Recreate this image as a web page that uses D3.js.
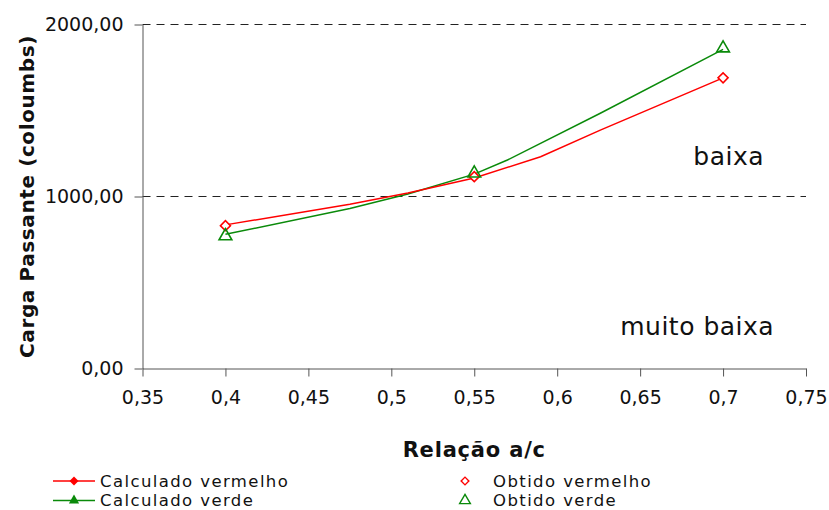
<!DOCTYPE html>
<html>
<head>
<meta charset="utf-8">
<script src="https://cdn.jsdelivr.net/npm/d3@7"></script>
<style>
  body { margin: 0; background: #fff; }
  text { font-family: "DejaVu Sans", sans-serif; fill: #111; }
</style>
</head>
<body>
<div id="chart"></div>
<script>
// calculated curves (x = relação a/c, y = carga passante)
var calcRedX = [0.4, 0.475, 0.51, 0.55, 0.59, 0.626, 0.7];
var calcRedY = [835, 955, 1020, 1108, 1231, 1386, 1690];
var calcGreenX = [0.4, 0.475, 0.51, 0.55, 0.57, 0.626, 0.7];
var calcGreenY = [780, 930, 1015, 1130, 1212, 1484, 1855];
// red calculated markers only show at these points
var calcRedMarkX = [0.4, 0.55];
var calcRedMarkY = [835, 1108];

// measured values
var obtX = [0.4, 0.55, 0.7];
var obtRedY = [830, 1115, 1690];
var obtGreenY = [770, 1135, 1862];

var xTicks = [0.35, 0.4, 0.45, 0.5, 0.55, 0.6, 0.65, 0.7, 0.75];
var yTicks = [0, 1000, 2000];
var zones = [{label: "baixa", x: 0.7034, y: 1182}, {label: "muito baixa", x: 0.6844, y: 195}];

var width = 829, height = 510;
var margin = {top: 24.5, right: 23, bottom: 141.5, left: 142.5};
var w = width - margin.left - margin.right,
    h = height - margin.top - margin.bottom;

var fmt = function(v, d) { return v.toFixed(d).replace(".", ","); };

var svg = d3.select("#chart").append("svg")
    .attr("width", width)
    .attr("height", height);

var g = svg.append("g")
    .attr("transform", "translate(" + margin.left + "," + margin.top + ")");

var x = d3.scaleLinear().domain([0.35, 0.75]).range([0, w]);
var y = d3.scaleLinear().domain([0, 2000]).range([h, 0]);

// dashed grid
g.append("g").selectAll("line")
    .data(yTicks.filter(function(d) { return d > 0; }))
    .enter().append("line")
    .attr("x1", 0).attr("x2", w)
    .attr("y1", function(d) { return y(d); })
    .attr("y2", function(d) { return y(d); })
    .attr("stroke", "#222")
    .attr("stroke-dasharray", "8,6");

// axes
var yAxis = g.append("g")
    .call(d3.axisLeft(y).tickValues(yTicks).tickSize(8).tickSizeOuter(0)
        .tickFormat(function(d) { return fmt(d, 2); }));
var xAxis = g.append("g")
    .attr("transform", "translate(0," + h + ")")
    .call(d3.axisBottom(x).tickValues(xTicks).tickSize(8).tickSizeOuter(0)
        .tickFormat(function(d) { return String(+d.toFixed(2)).replace(".", ","); }));

[xAxis, yAxis].forEach(function(a) {
    a.select(".domain").attr("stroke", "#555");
    a.selectAll(".tick line").attr("stroke", "#555");
    a.selectAll(".tick text")
        .style("font-family", "DejaVu Sans, sans-serif")
        .style("font-size", "19px")
        .attr("fill", "#111");
});
yAxis.selectAll(".tick text").attr("x", -19);
xAxis.selectAll(".tick text").attr("y", 22);

// lines
var line = d3.line()
    .x(function(d) { return x(d[0]); })
    .y(function(d) { return y(d[1]); });

g.append("path")
    .datum(d3.zip(calcGreenX, calcGreenY))
    .attr("d", line)
    .attr("fill", "none")
    .attr("stroke", "#0a8a0a")
    .attr("stroke-width", 1.5);

g.append("path")
    .datum(d3.zip(calcRedX, calcRedY))
    .attr("d", line)
    .attr("fill", "none")
    .attr("stroke", "#ff0000")
    .attr("stroke-width", 1.5);

var diamond = d3.symbol().type(d3.symbolSquare).size(50);
var smallDiamond = d3.symbol().type(d3.symbolSquare).size(30);
var triangle = d3.symbol().type(d3.symbolTriangle).size(70);

g.append("g").selectAll("path")
    .data(d3.zip(calcRedMarkX, calcRedMarkY))
    .enter().append("path")
    .attr("d", smallDiamond)
    .attr("transform", function(d) { return "translate(" + x(d[0]) + "," + y(d[1]) + ") rotate(45)"; })
    .attr("fill", "#ff0000");

g.append("g").selectAll("path")
    .data(d3.zip(obtX, obtRedY))
    .enter().append("path")
    .attr("d", diamond)
    .attr("transform", function(d) { return "translate(" + x(d[0]) + "," + y(d[1]) + ") rotate(45)"; })
    .attr("fill", "#fff")
    .attr("stroke", "#ff0000")
    .attr("stroke-width", 1.6);

g.append("g").selectAll("path")
    .data(d3.zip(obtX, obtGreenY))
    .enter().append("path")
    .attr("d", triangle)
    .attr("transform", function(d) { return "translate(" + x(d[0]) + "," + y(d[1]) + ")"; })
    .attr("fill", "none")
    .attr("stroke", "#0a8a0a")
    .attr("stroke-width", 1.6);

// zone labels
g.append("g").selectAll("text")
    .data(zones)
    .enter().append("text")
    .attr("x", function(d) { return x(d.x); })
    .attr("y", function(d) { return y(d.y); })
    .attr("text-anchor", "middle")
    .style("font-size", "25px")
    .style("letter-spacing", "0.5px")
    .text(function(d) { return d.label; });

// axis titles
svg.append("text")
    .attr("transform", "translate(34," + (margin.top + h / 2) + ") rotate(-90)")
    .attr("text-anchor", "middle")
    .style("font-size", "20px")
    .style("letter-spacing", "0.6px")
    .style("font-weight", "bold")
    .text("Carga Passante (coloumbs)");

svg.append("text")
    .attr("x", margin.left + w / 2)
    .attr("y", 457)
    .attr("text-anchor", "middle")
    .style("font-size", "21px")
    .style("letter-spacing", "0.8px")
    .style("font-weight", "bold")
    .text("Relação a/c");

// legend
var legendItems = [
    {label: "Calculado vermelho", color: "#ff0000", kind: "calc", sym: "diamond", col: 0, row: 0},
    {label: "Calculado verde", color: "#0a8a0a", kind: "calc", sym: "triangle", col: 0, row: 1},
    {label: "Obtido vermelho", color: "#ff0000", kind: "obt", sym: "diamond", col: 1, row: 0},
    {label: "Obtido verde", color: "#0a8a0a", kind: "obt", sym: "triangle", col: 1, row: 1}
];
var legendCols = [74, 465], legendRows = [481, 500.5];

var leg = svg.append("g").selectAll("g")
    .data(legendItems)
    .enter().append("g")
    .attr("transform", function(d) { return "translate(" + legendCols[d.col] + "," + legendRows[d.row] + ")"; });

leg.filter(function(d) { return d.kind === "calc"; })
    .append("line")
    .attr("x1", -21).attr("x2", 21)
    .attr("stroke", function(d) { return d.color; })
    .attr("stroke-width", 1.6);

leg.append("path")
    .attr("d", function(d) {
        if (d.sym === "diamond") return d3.symbol().type(d3.symbolSquare).size(d.kind === "calc" ? 40 : 30)();
        return d3.symbol().type(d3.symbolTriangle).size(d.kind === "calc" ? 45 : 50)();
    })
    .attr("transform", function(d) { return d.sym === "diamond" ? "rotate(45)" : null; })
    .attr("fill", function(d) { return d.kind === "calc" ? d.color : "none"; })
    .attr("stroke", function(d) { return d.color; })
    .attr("stroke-width", function(d) { return d.kind === "calc" ? 0 : 1.4; });

leg.append("text")
    .attr("x", function(d) { return d.kind === "calc" ? 26 : 28; })
    .attr("y", 5.5)
    .style("font-size", "16.5px")
    .style("letter-spacing", "1.4px")
    .text(function(d) { return d.label; });
</script>
</body>
</html>
